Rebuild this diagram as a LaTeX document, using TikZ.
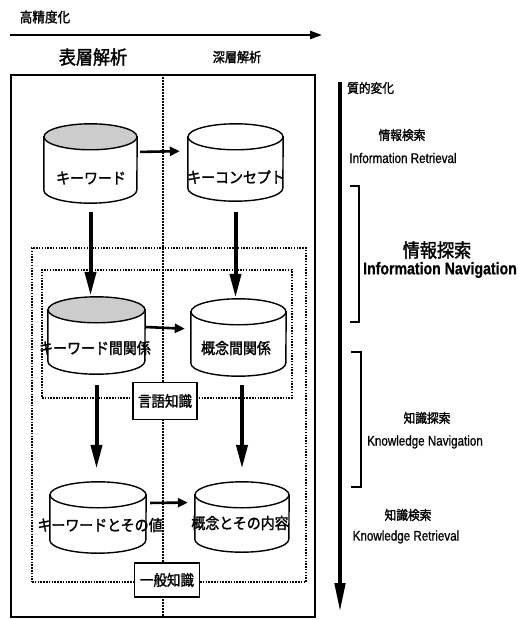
\documentclass[tikz,border=0pt]{standalone}
\usepackage{fontspec}
\setmainfont{Liberation Sans}
\newfontfamily\jp[FakeStretch=0.9, FakeBold=1.6]{Noto Sans CJK JP}
\newfontfamily\lat[FakeStretch=0.83, FakeBold=0.8]{Liberation Sans}
\usetikzlibrary{arrows.meta,calc}
\tikzset{
  framebox/.style={draw, line width=2pt, inner sep=0pt},
  divider/.style={line width=1.4pt, dash pattern=on 1.6pt off 1.4pt},
  dotbox/.style={draw, line width=1.6pt, dash pattern=on 1.5pt off 1.3pt, inner sep=0pt},
  labbox/.style={draw, fill=white, line width=1.3pt, inner sep=0pt, font=\jp\fontsize{15}{15}\selectfont},
  cylframe/.style={inner sep=0pt},
  cylline/.style={line width=1.4pt},
  cyltext/.style={font=\jp\fontsize{15.5}{15.5}\selectfont, inner sep=0pt},
  bigarrow/.style={line width=4pt, -{Triangle[length=24pt,width=11pt]}},
  harrow/.style={line width=2.6pt, -{Triangle[length=10pt,width=9pt]}},
  qarrow/.style={line width=4.5pt, -{Triangle[length=30pt,width=10pt]}},
  toparrow/.style={line width=2.4pt, -{Triangle[length=12pt,width=8pt]}},
  bracket/.style={line width=1.2pt},
  jpsmall/.style={font=\jp\fontsize{13}{13}\selectfont, inner sep=0pt},
  latsmall/.style={font=\lat\fontsize{14}{14}\selectfont, inner sep=0pt},
}
\newcommand\cyl[6]{%
  \node[cylframe, minimum width={2*#5}, minimum height={#4-#3}] (#1) at (#2,{(#3+#4)/2}) {};
  \draw[cylline, fill=white] ([yshift=-13pt]#1.north west) -- ([yshift=13pt]#1.south west)
     arc[start angle=180, end angle=360, x radius=#5pt, y radius=13pt]
     -- ([yshift=-13pt]#1.north east) -- cycle;
  \draw[cylline, fill=#6] ([yshift=-13pt]#1.north) ellipse[x radius=#5pt, y radius=13pt];
}
\begin{document}
\begin{tikzpicture}[x=1pt,y=-1pt]
\useasboundingbox (0,0) rectangle (527,620);
\fill[white] (0,0) rectangle (527,620);

% top
\node[font=\jp\fontsize{14}{14}\selectfont, inner sep=0pt] (hp) at (45,17) {高精度化};
\coordinate (ta) at (10,35);
\coordinate (tb) at (322,35);
\draw[toparrow] (ta) -- (tb);
\node[font=\jp\fontsize{19}{19}\selectfont, inner sep=0pt] (hyo) at (93,57) {表層解析};
\node[font=\jp\fontsize{13.5}{13.5}\selectfont, inner sep=0pt] (shin) at (237,57) {深層解析};

% frame
\node[framebox, minimum width=304pt, minimum height=542pt] (frame) at (163,346) {};
\draw[divider] (frame.north) -- (frame.south);

% dotted knowledge areas
\node[dotbox, minimum width=274pt, minimum height=334pt] (gk) at (169,415) {};
\node[dotbox, minimum width=250pt, minimum height=128pt] (lk) at (167,334) {};

% label boxes
\node[labbox, minimum width=64pt, minimum height=37pt] (lang) at (165,401) {言語知識};
\node[labbox, minimum width=65pt, minimum height=34pt] (gen) at (167,580) {一般知識};

% cylinders
\cyl{kw}{90.5}{124}{203}{46.5}{gray!40}
\cyl{kc}{235.5}{124}{201}{47.5}{white}
\cyl{kr}{96.5}{297}{374}{48.5}{gray!40}
\cyl{cr}{238.5}{299}{376}{47.5}{white}
\cyl{kv}{98}{482}{553}{48}{white}
\cyl{cc}{242}{482}{552}{47}{white}

\node[cyltext] (tkw) at (91,178) {キーワード};
\node[cyltext] (tkc) at (236,177) {キーコンセプト};
\node[cyltext] (tkr) at (95,348) {キーワード間関係};
\node[cyltext] (tcr) at (236,348) {概念間関係};
\node[cyltext] (tkv) at (100,525) {キーワードとその値};
\node[cyltext] (tcc) at (240,523) {概念とその内容};

% horizontal arrows
\draw[harrow, shorten <=3pt, shorten >=8pt] ([yshift=11.5pt]kw.east) -- ([yshift=11.5pt]kc.west);
\draw[harrow, shorten <=1pt, shorten >=6pt] ([yshift=8.5pt]kr.east) -- ([yshift=8.5pt]cr.west);
\draw[harrow, shorten <=4pt, shorten >=7pt] ([yshift=14.5pt]kv.east) -- ([yshift=14.5pt]cc.west);

% vertical arrows
\draw[bigarrow, shorten <=9pt, shorten >=1pt] (kw.south) -- (kw.south |- kr.north);
\draw[bigarrow, shorten <=11pt, shorten >=1pt] (kc.south) -- (kc.south |- cr.north);
\draw[bigarrow, shorten <=11pt, shorten >=13pt] (kr.south) -- (kr.south |- kv.north);
\draw[bigarrow, shorten <=9pt, shorten >=13pt] (cc.north |- cr.south) -- (cc.north);

% right side
\coordinate (qa) at (340,82);
\coordinate (qb) at (340,613);
\draw[qarrow] (qa) -- (qb);
\node[jpsmall, anchor=west] (qc) at (347,88) {質的変化};
\node[jpsmall] (ir1) at (402,135) {情報検索};
\node[latsmall] (ir2) at (403,158) {Information Retrieval};
\draw[bracket] (350,186) -- (359,186) -- (359,322) -- (350,322);
\node[font=\jp\fontsize{19}{19}\selectfont, inner sep=0pt] (in1) at (437,250) {情報探索};
\node[font=\lat\bfseries\fontsize{17}{17}\selectfont, inner sep=0pt] (in2) at (440,270) {Information Navigation};
\draw[bracket] (351,352) -- (361,352) -- (361,487) -- (351,487);
\node[jpsmall] (kn1) at (427,418) {知識探索};
\node[latsmall] (kn2) at (425,442) {Knowledge Navigation};
\node[jpsmall] (kr1) at (408,515) {知識検索};
\node[latsmall] (kr2) at (406,537) {Knowledge Retrieval};
\end{tikzpicture}
\end{document}
